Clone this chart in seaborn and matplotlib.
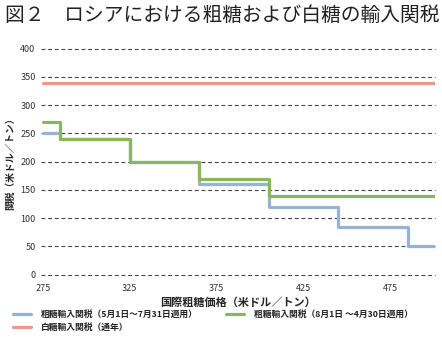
import matplotlib
matplotlib.use("Agg")
import matplotlib.pyplot as plt
import seaborn as sns
import pandas as pd

# data
price_breaks = [275, 285, 325, 365, 405, 445, 485, 500]
raw_may_jul = [250, 240, 200, 160, 120, 85, 50, 50]
raw_aug_apr = [270, 240, 200, 170, 140, 140, 140, 140]
white_all = [340, 340, 340, 340, 340, 340, 340, 340]
x_ticks = [275, 325, 375, 425, 475]
y_ticks = [0, 50, 100, 150, 200, 250, 300, 350, 400]

lab_blue = "粗糖輸入関税（5月1日～7月31日適用）"
lab_green = "粗糖輸入関税（8月1日 ～4月30日適用）"
lab_red = "白糖輸入関税（通年）"

sns.set_theme(style="white")
plt.rcParams['font.family'] = ['Noto Sans CJK JP', 'DejaVu Sans']

df = pd.DataFrame({
    "price": price_breaks * 3,
    "duty": raw_may_jul + white_all + raw_aug_apr,
    "series": [lab_blue] * len(price_breaks) + [lab_red] * len(price_breaks) + [lab_green] * len(price_breaks),
})

palette = {lab_blue: "#95b3d7", lab_red: "#e99a84", lab_green: "#8cb65c"}

fig = plt.figure(figsize=(4.42, 3.39), dpi=100)
ax = fig.add_axes([0.093, 0.188, 0.891, 0.670])

for yv in y_ticks:
    ax.axhline(yv, color="#444444", lw=0.8, ls=(0, (3.5, 2.5)), zorder=0, clip_on=False)

sns.lineplot(data=df, x="price", y="duty", hue="series", palette=palette,
             hue_order=[lab_blue, lab_red, lab_green],
             drawstyle="steps-post", lw=2.3, ax=ax, legend=False,
             estimator=None, sort=False)

ax.set_xlim(274, 500.5)
ax.set_ylim(-1, 401)
ax.set_xticks(x_ticks)
ax.set_yticks(y_ticks)
ax.tick_params(axis="both", labelsize=6.5, colors="#333333", length=0)
ax.tick_params(axis="x", pad=6)
ax.tick_params(axis="y", pad=4)
for s in ax.spines.values():
    s.set_visible(False)
ax.grid(False)

ax.set_xlabel("国際粗糖価格（米ドル／トン）", fontsize=8, fontweight="bold", labelpad=2)
ax.set_ylabel("関税（米ドル／トン）", fontsize=7, fontweight="bold", labelpad=4)

fig.text(0.012, 0.955, "図２　ロシアにおける粗糖および白糖の輸入関税", fontsize=14.2,
         ha="left", va="center", color="#222222")

from matplotlib.lines import Line2D
handles = [Line2D([], [], color=palette[lab_blue], lw=2.3),
           Line2D([], [], color=palette[lab_red], lw=2.3),
           Line2D([], [], color=palette[lab_green], lw=2.3)]
labels = [lab_blue, lab_red, lab_green]
leg = fig.legend(handles, labels, ncol=2, loc="upper left", bbox_to_anchor=(0.03, 0.086),
                 frameon=False, fontsize=6.3, handlelength=2.0, handletextpad=1.2,
                 columnspacing=3.2, labelspacing=0.5, borderpad=0, borderaxespad=0)
for t in leg.get_texts():
    t.set_fontweight("bold")
    t.set_color("#222222")

fig.savefig("out.png", dpi=100)
